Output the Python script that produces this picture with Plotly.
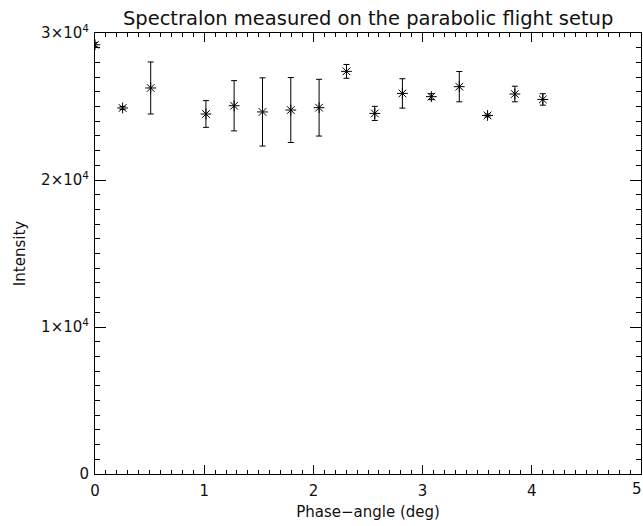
import plotly.graph_objects as go

# Data
phase_angle = [0.0, 0.253, 0.510, 1.016, 1.274, 1.534, 1.793, 2.052, 2.303,
               2.562, 2.815, 3.080, 3.336, 3.595, 3.845, 4.101]
intensity = [29200, 24900, 26260, 24490, 25050, 24630, 24760, 24920, 27390,
             24530, 25890, 25670, 26350, 24390, 25850, 25480]
intensity_err = [150, 100, 1770, 910, 1710, 2320, 2210, 1930, 470,
                 480, 1000, 200, 1030, 100, 530, 390]

x_tickvals = [0, 1, 2, 3, 4, 5]
x_ticktext = ["0", "1", "2", "3", "4", "5"]
y_tickvals = [0, 10000, 20000, 30000]
y_ticktext = ["0", "1×10<sup>4</sup>", "2×10<sup>4</sup>", "3×10<sup>4</sup>"]

title_text = "Spectralon measured on the parabolic flight setup"
x_title = "Phase−angle (deg)"
y_title = "Intensity"

FONT = "DejaVu Sans"
X_RANGE = [0, 5]
Y_RANGE = [0, 30000]

fig = go.Figure()
fig.add_trace(go.Scatter(
    x=phase_angle, y=intensity, mode="markers",
    marker=dict(symbol="asterisk-open", size=9, color="black",
                line=dict(color="black", width=1)),
    error_y=dict(type="data", array=intensity_err, visible=True,
                 color="black", thickness=1, width=3),
    showlegend=False,
))
# invisible trace to carry the mirrored (top/right) tick axes
fig.add_trace(go.Scatter(x=[X_RANGE[0]], y=[Y_RANGE[0]], xaxis="x2", yaxis="y2",
                         mode="markers", marker=dict(opacity=0), showlegend=False,
                         hoverinfo="skip"))

fig.update_layout(
    width=643, height=526,
    margin=dict(l=95, r=2, t=33, b=52),
    paper_bgcolor="white", plot_bgcolor="white",
    font=dict(family=FONT, color="#111", size=15),
    title=dict(text=title_text, x=0.5725, xanchor="center", y=0.978, yanchor="top",
               font=dict(family=FONT, size=19.5, color="#111")),
)

common_minor = dict(ticks="inside", tickcolor="black", tickwidth=1, showgrid=False)

fig.update_layout(
    xaxis=dict(
        range=X_RANGE, tickvals=x_tickvals[:-1], ticktext=x_ticktext[:-1],
        showgrid=False, zeroline=False,
        showline=True, linecolor="black", linewidth=1,
        ticks="inside", ticklen=9, tickcolor="black", tickwidth=1,
        minor=dict(dtick=0.1, ticklen=4, **common_minor),
        tickfont=dict(size=15), ticklabelstandoff=3,
        title=dict(text=x_title, font=dict(size=15), standoff=7),
    ),
    yaxis=dict(
        range=Y_RANGE, tickvals=y_tickvals, ticktext=y_ticktext,
        showgrid=False, zeroline=False,
        showline=True, linecolor="black", linewidth=1,
        ticks="inside", ticklen=11, tickcolor="black", tickwidth=1,
        minor=dict(dtick=1000, ticklen=5, **common_minor),
        tickfont=dict(size=15), ticklabelstandoff=2,
        title=dict(text=y_title, font=dict(size=15), standoff=11),
    ),
    xaxis2=dict(
        range=X_RANGE, overlaying="x", side="top", anchor="y",
        tickvals=x_tickvals, showticklabels=False,
        showgrid=False, zeroline=False,
        showline=True, linecolor="black", linewidth=1,
        ticks="inside", ticklen=9, tickcolor="black", tickwidth=1,
        minor=dict(dtick=0.1, ticklen=4, **common_minor),
    ),
    yaxis2=dict(
        range=Y_RANGE, overlaying="y", side="right", anchor="x",
        tickvals=y_tickvals, showticklabels=False,
        showgrid=False, zeroline=False,
        showline=True, linecolor="black", linewidth=1,
        ticks="inside", ticklen=11, tickcolor="black", tickwidth=1,
        minor=dict(dtick=1000, ticklen=5, **common_minor),
    ),
)

# last x tick label, which sits at the very edge of the page
fig.add_annotation(x=X_RANGE[1], y=0, xref="x", yref="paper", text=x_ticktext[-1],
                   showarrow=False, yanchor="top", xanchor="right", xshift=3, yshift=-4,
                   font=dict(family=FONT, size=15, color="#111"))

fig.write_html("out.html")
